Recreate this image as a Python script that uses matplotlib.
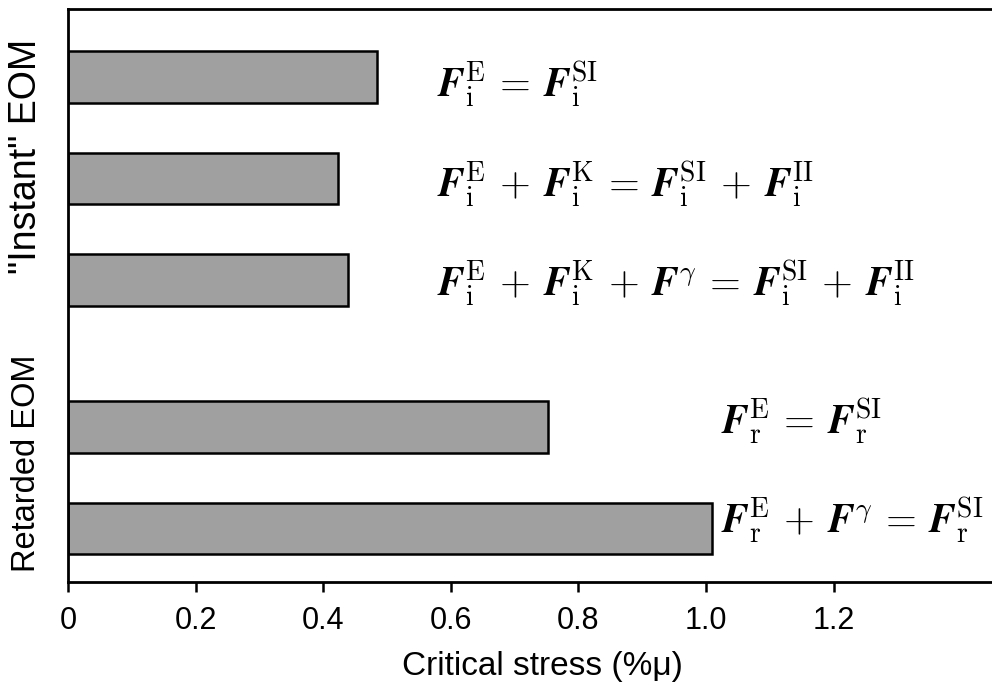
import matplotlib
matplotlib.use("Agg")
import matplotlib.pyplot as plt

plt.rcParams['font.family'] = ['Liberation Sans', 'DejaVu Sans']
plt.rcParams['mathtext.fontset'] = 'cm'

# Data (top to bottom)
values = [0.484, 0.423, 0.439, 0.752, 1.009]
positions = [4.45, 3.45, 2.45, 1.0, 0.0]
labels = [
    r'$\boldsymbol{F}_{\rm i}^{\rm E} \,=\, \boldsymbol{F}_{\rm i}^{\rm SI}$',
    r'$\boldsymbol{F}_{\rm i}^{\rm E} \,+\, \boldsymbol{F}_{\rm i}^{\rm K} \,=\, \boldsymbol{F}_{\rm i}^{\rm SI} \,+\, \boldsymbol{F}_{\rm i}^{\rm II}$',
    r'$\boldsymbol{F}_{\rm i}^{\rm E} \,+\, \boldsymbol{F}_{\rm i}^{\rm K} \,+\, \boldsymbol{F}^{\gamma} \,=\, \boldsymbol{F}_{\rm i}^{\rm SI} \,+\, \boldsymbol{F}_{\rm i}^{\rm II}$',
    r'$\boldsymbol{F}_{\rm r}^{\rm E} \,=\, \boldsymbol{F}_{\rm r}^{\rm SI}$',
    r'$\boldsymbol{F}_{\rm r}^{\rm E} \,+\, \boldsymbol{F}^{\gamma} \,=\, \boldsymbol{F}_{\rm r}^{\rm SI}$',
]
label_x = [0.578, 0.578, 0.578, 1.023, 1.023]
label_dy = [0.19, 0.18, 0.15, 0.06, 0.04]
xticks = [0, 0.2, 0.4, 0.6, 0.8, 1.0, 1.2]
xticklabels = ['0', '0.2', '0.4', '0.6', '0.8', '1.0', '1.2']
group_labels = ['"Instant" EOM', 'Retarded EOM']

fig = plt.figure(figsize=(9.92, 6.88), dpi=100)
ax = fig.add_axes([68/992, (688-582)/688, (992-68)/992, (582-9)/688])

ax.barh(positions, values, height=0.507, color='#a0a0a0', edgecolor='black', linewidth=1.8)
for x, y, dy, s in zip(label_x, positions, label_dy, labels):
    ax.text(x, y - dy, s, fontsize=28.5, va='baseline', ha='left')

ax.set_xlim(0, 1.448)
ax.set_ylim(-0.525, 5.12)
ax.set_xticks(xticks)
ax.set_xticklabels(xticklabels, fontsize=22)
ax.set_yticks([])
ax.tick_params(axis='x', direction='out', length=7, width=1.8, pad=10)
for s in ['left', 'bottom', 'top']:
    ax.spines[s].set_linewidth(2.0)
ax.spines['right'].set_visible(False)
ax.set_xlabel('Critical stress (%μ)', fontsize=24, labelpad=11)
ax.xaxis.label.set_x((542 - 68) / 924)

fig.text(26/992, 1 - 156/688, group_labels[0], rotation=90, fontsize=27, ha='center', va='center')
fig.text(27/992, 1 - 463/688, group_labels[1], rotation=90, fontsize=23.5, ha='center', va='center')

fig.savefig('out.png', dpi=100)
